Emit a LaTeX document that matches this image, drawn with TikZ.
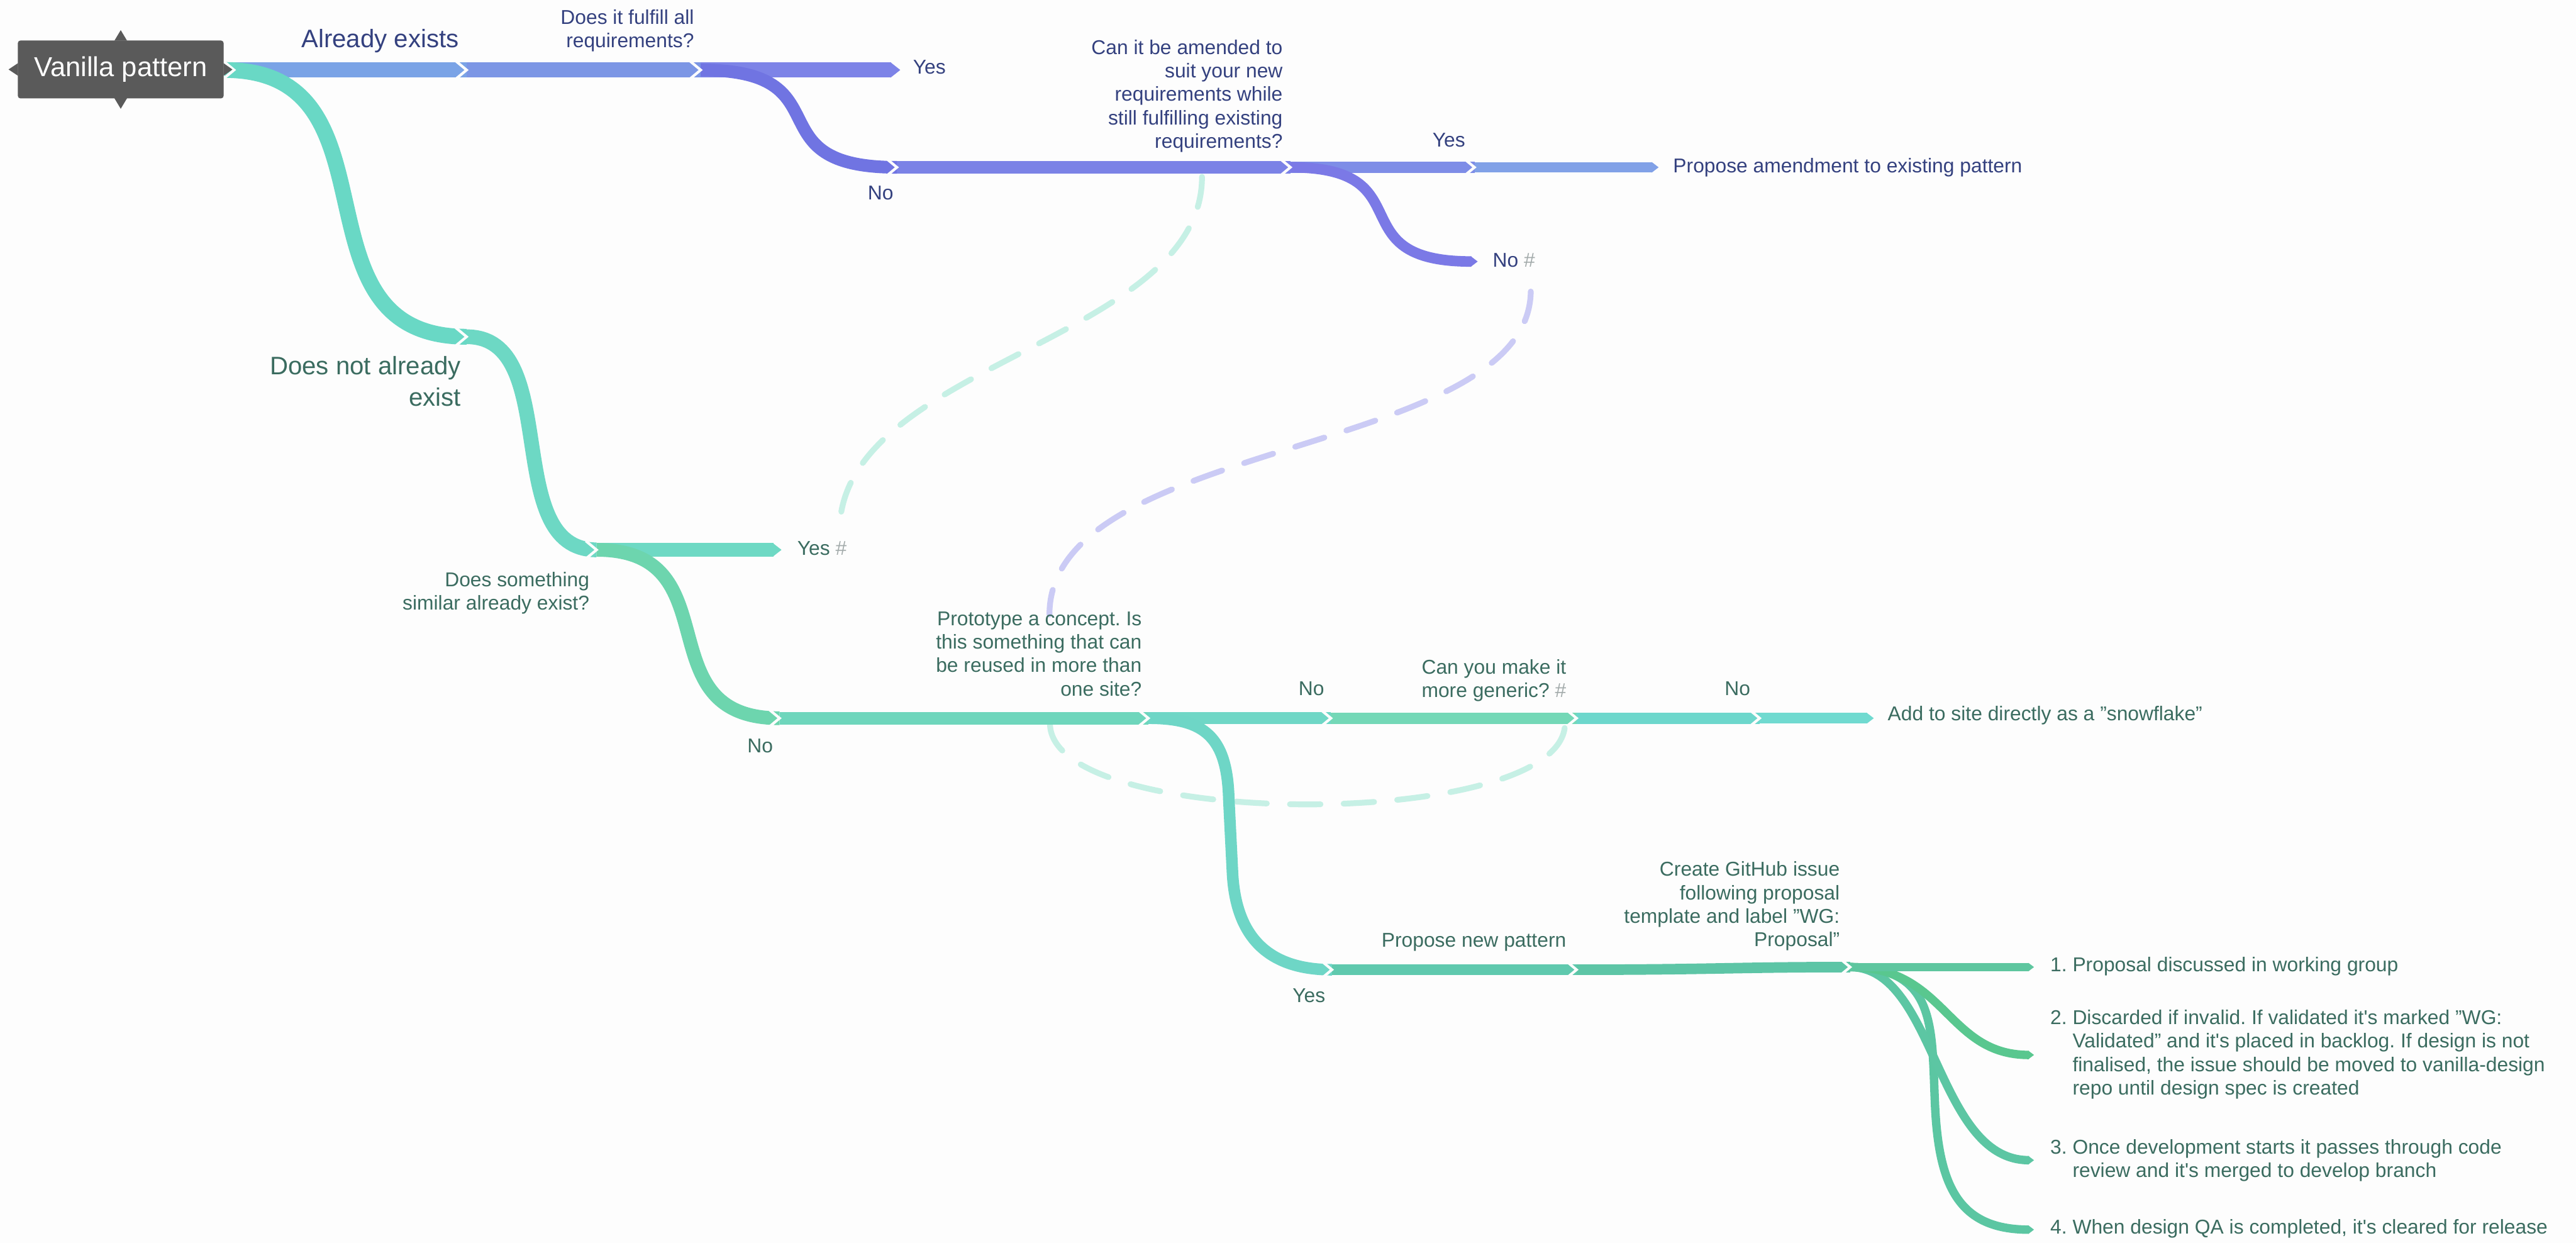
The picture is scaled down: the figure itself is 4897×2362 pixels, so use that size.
\documentclass[tikz,border=0pt]{standalone}
\usepackage{fontspec}
\setmainfont{Liberation Sans}
\usetikzlibrary{calc}
\frenchspacing

\definecolor{bg}{HTML}{FDFDFD}
\definecolor{rootgray}{HTML}{5A5A5A}
\definecolor{btext}{HTML}{34417F}
\definecolor{gtext}{HTML}{3B6C60}
\definecolor{hcol}{HTML}{A3ABAB}
\definecolor{dteal}{HTML}{C6F0E5}
\definecolor{dpurple}{HTML}{CBCBF5}
% blue family
\definecolor{cA}{HTML}{7AA3E6}
\definecolor{cB}{HTML}{7C96E5}
\definecolor{cC}{HTML}{7D83E7}
\definecolor{cD}{HTML}{7074E2}
\definecolor{cE}{HTML}{7B82E6}
\definecolor{cF}{HTML}{7E8DE7}
\definecolor{cG}{HTML}{81A1E7}
\definecolor{cH}{HTML}{7B79E6}
% teal family
\definecolor{cI}{HTML}{69D8C5}
\definecolor{cJ}{HTML}{6DD8C4}
\definecolor{cK}{HTML}{6ED9C4}
\definecolor{cL}{HTML}{6DD5AE}
\definecolor{cM}{HTML}{6ED6BC}
\definecolor{cN}{HTML}{6FD7C6}
\definecolor{cO}{HTML}{74D8B7}
\definecolor{cP}{HTML}{6DD7CC}
\definecolor{cQ}{HTML}{70DAD0}
\definecolor{cR}{HTML}{6ED6C6}
\definecolor{cS}{HTML}{5FC9AE}
\definecolor{cT}{HTML}{5DC5A6}
\definecolor{cFa}{HTML}{5EC69F}
\definecolor{cFb}{HTML}{59C78F}
\definecolor{cFc}{HTML}{5CC6A3}
\definecolor{cFd}{HTML}{5BC6A2}

\newcommand{\fsmall}{\fontsize{10.81pt}{12.66pt}\selectfont}
\newcommand{\fbig}{\fontsize{13.66pt}{16.79pt}\selectfont}
\newcommand{\froot}{\fontsize{14.8pt}{17pt}\selectfont}
\newcommand{\ap}{\textquotesingle}

% white chevron separator at a junction: coordinate, band thickness (px)
\newcommand{\chev}[2]{%
  \draw[sepline] ($(#1)+({-1.2*(0.5*#2+3)},{-(0.5*#2+3)})$) -- (#1) -- ($(#1)+({-1.2*(0.5*#2+3)},{0.5*#2+3})$);}
% pointed band end: base coordinate, thickness (px), colour
\newcommand{\tipR}[3]{%
  \fill[#3] ($(#1)+(-1,{-0.5*#2})$) -- ($(#1)+({0.6*#2},0)$) -- ($(#1)+(-1,{0.5*#2})$) -- cycle;}

\begin{document}
\begin{tikzpicture}[x=0.01cm, y=-0.01cm,
  band/.style={line width=#1, line cap=butt},
  sepline/.style={draw=bg, line width=0.5mm, line join=miter},
  dashlink/.style={line width=1.1mm, line cap=round, dash pattern=on 5.8mm off 4.4mm},
  lbl/.style={inner sep=0pt, font=\fsmall},
  mlbl/.style={inner sep=0pt, font=\fsmall, align=right, anchor=north east},
  rootbox/.style={fill=rootgray, rounded corners=0.5mm, text=white, font=\froot,
    minimum width=3.91cm, minimum height=1.1cm, inner sep=0pt}]

\useasboundingbox (0,0) rectangle (4897,2362);
\fill[bg] (0,0) rectangle (4897,2362);

% ---------- junction coordinates ----------
\coordinate (O) at (427,133);
\coordinate (O2) at (445,133);
\coordinate (J1) at (887,133);
\coordinate (J2) at (1332,133);
\coordinate (Cb) at (1694,133);
\coordinate (J3) at (1705,318);
\coordinate (J4) at (2453,318);
\coordinate (J5) at (2803,318);
\coordinate (Gb) at (3141,318);
\coordinate (Hb) at (2797,497);
\coordinate (J6) at (887,640);
\coordinate (J7) at (1134,1045);
\coordinate (Kb) at (1470,1045);
\coordinate (J8) at (1482,1365);
\coordinate (J9) at (2183,1365);
\coordinate (J10) at (2530,1365);
\coordinate (J11) at (2997,1365);
\coordinate (J12) at (3345,1365);
\coordinate (Qb) at (3550,1365);
\coordinate (J13) at (2532,1843);
\coordinate (J14) at (2997,1843);
\coordinate (J15) at (3517,1838);
\coordinate (F1b) at (3857,1838);
\coordinate (F2b) at (3857,2005);
\coordinate (F3b) at (3857,2205);
\coordinate (F4b) at (3857,2337);

% ---------- dashed links ----------
\coordinate (d1s) at (2285,336);
\coordinate (d1e) at (1596,1010);
\coordinate (d2s) at (2910,554);
\coordinate (d2e) at (1995,1168);
\coordinate (d3s) at (1996,1375);
\coordinate (d3e) at (2975,1375);
\draw[dashlink, dteal] (d1s) .. controls (2285,650) and (1596,690) .. (d1e);
\draw[dashlink, dpurple] (d2s) .. controls (2905,870) and (1995,830) .. (d2e);
\draw[dashlink, dteal] (d3s) .. controls (1996,1580) and (2975,1580) .. (d3e);

% ---------- blue branch ----------
\draw[band=2.9mm, cA] (O) -- (J1);
\draw[band=2.9mm, cB] (J1) -- (J2);
\draw[band=2.9mm, cC] (J2) -- (Cb);
\draw[band=2.3mm, cE] (J3) -- (J4);
\draw[band=2.2mm, cF] (J4) -- (J5);
\draw[band=2.0mm, cG] (J5) -- (Gb);
\draw[band=2.4mm, cD] (J2) .. controls (1612,133) and (1425,318) .. (J3);
\draw[band=2.0mm, cH] (J4) .. controls (2711,318) and (2539,497) .. (Hb);

% ---------- teal branch ----------
\draw[band=3.0mm, cI] (O) .. controls (772,133) and (542,640) .. (J6);
\draw[band=2.8mm, cJ] (J6) .. controls (1072,640) and (949,1045) .. (J7);
\draw[band=2.6mm, cK] (J7) -- (Kb);
\draw[band=2.6mm, cL] (J7) .. controls (1395,1045) and (1221,1365) .. (J8);
\draw[band=2.4mm, cM] (J8) -- (J9);
\draw[band=2.3mm, cN] (J9) -- (J10);
\draw[band=2.2mm, cO] (J10) -- (J11);
\draw[band=2.1mm, cP] (J11) -- (J12);
\draw[band=2.0mm, cQ] (J12) -- (Qb);
\draw[band=2.2mm, cR] (J9) .. controls (2290,1365) and (2333,1400) .. (2336,1520)
   -- (2343,1660) .. controls (2350,1790) and (2420,1843) .. (J13);
\draw[band=2.0mm, cS] (J13) -- (J14);
\draw[band=2.0mm, cT] (J14) .. controls (3250,1843) and (3300,1838) .. (J15);
\draw[band=1.6mm, cFd] (J15) .. controls (3680,1838) and (3672,1950) .. (3678,2090)
   .. controls (3684,2250) and (3720,2337) .. (F4b);
\draw[band=1.6mm, cFc] (J15) .. controls (3680,1838) and (3680,2205) .. (F3b);
\draw[band=1.6mm, cFb] (J15) .. controls (3700,1838) and (3700,2005) .. (F2b);
\draw[band=1.6mm, cFa] (J15) -- (F1b);

% ---------- pointed ends ----------
\tipR{Cb}{29}{cC}
\tipR{Gb}{20}{cG}
\tipR{Hb}{20}{cH}
\tipR{Kb}{26}{cK}
\tipR{Qb}{20}{cQ}
\tipR{F1b}{16}{cFa}
\tipR{F2b}{16}{cFb}
\tipR{F3b}{16}{cFc}
\tipR{F4b}{16}{cFd}

% ---------- chevron separators ----------
\chev{O2}{30}
\chev{J1}{29}
\chev{J2}{29}
\chev{J3}{24}
\chev{J4}{23}
\chev{J5}{22}
\chev{J6}{30}
\chev{J7}{28}
\chev{J8}{26}
\chev{J9}{24}
\chev{J10}{23}
\chev{J11}{22}
\chev{J12}{21}
\chev{J13}{22}
\chev{J14}{20}
\chev{J15}{20}

% ---------- root ----------
\node[rootbox] (root) at (229.5,132) {Vanilla pattern};
\fill[rootgray] ($(root.north)+(-12,1)$) -- ($(root.north)+(0,-19)$) -- ($(root.north)+(12,1)$) -- cycle;
\fill[rootgray] ($(root.south)+(-12,-1)$) -- ($(root.south)+(0,19)$) -- ($(root.south)+(12,-1)$) -- cycle;
\fill[rootgray] ($(root.west)+(1,-12)$) -- ($(root.west)+(-17,0)$) -- ($(root.west)+(1,12)$) -- cycle;
\fill[rootgray] ($(root.east)+(-1,-12)$) -- ($(root.east)+(16,0)$) -- ($(root.east)+(-1,12)$) -- cycle;

% ---------- labels ----------
\node[lbl, font=\fbig, text=btext, anchor=base east] (lAlready) at (873,90) {Already exists};
\node[mlbl, text=btext] (lFulfill) at (1320,18) {Does it fulfill all\\requirements?};
\node[lbl, text=btext, anchor=base west] (lYes1) at (1735,141) {Yes};
\node[lbl, text=btext, anchor=base east] (lNo1) at (1699,380) {No};
\node[mlbl, text=btext] (lAmend) at (2439,75) {Can it be amended to\\suit your new\\requirements while\\still fulfilling existing\\requirements?};
\node[lbl, text=btext, anchor=base east] (lYes2) at (2786,279) {Yes};
\node[lbl, text=btext, anchor=base west] (lPropAm) at (3180,328) {Propose amendment to existing pattern};
\node[lbl, text=btext, anchor=base west] (lNo2) at (2837,507) {No \textcolor{hcol}{\#}};

\node[mlbl, font=\fbig, text=gtext] (lNotExist) at (877,677) {Does not already\\exist};
\node[mlbl, text=gtext] (lSimilar) at (1121,1086) {Does something\\similar already exist?};
\node[lbl, text=gtext, anchor=base west] (lYes3) at (1515,1055) {Yes \textcolor{hcol}{\#}};
\node[lbl, text=gtext, anchor=base east] (lNo3) at (1470,1430) {No};
\node[mlbl, text=gtext] (lProto) at (2171,1162) {Prototype a concept. Is\\this something that can\\be reused in more than\\one site?};
\node[lbl, text=gtext, anchor=base east] (lNo4) at (2518,1322) {No};
\node[mlbl, text=gtext] (lGeneric) at (2978,1253) {Can you make it\\more generic? \textcolor{hcol}{\#}};
\node[lbl, text=gtext, anchor=base east] (lNo5) at (3328,1322) {No};
\node[lbl, text=gtext, anchor=base west] (lSnow) at (3588,1370) {Add to site directly as a "snowflake"};
\node[lbl, text=gtext, anchor=base east] (lYes4) at (2520,1905) {Yes};
\node[lbl, text=gtext, anchor=base east] (lPropNew) at (2978,1800) {Propose new pattern};
\node[mlbl, text=gtext] (lCreate) at (3498,1637) {Create GitHub issue\\following proposal\\template and label "WG:\\Proposal"};

\node[lbl, text=gtext, anchor=base west] (lF1) at (3897,1846) {1. Proposal discussed in working group};
\node[lbl, text=gtext, anchor=west] (lF2) at (3897,2005) {\begin{tabular}{@{}l@{\ }l@{}}2.&Discarded if invalid. If validated it\ap s marked "WG:\\&Validated" and it\ap s placed in backlog. If design is not\\&finalised, the issue should be moved to vanilla-design\\&repo until design spec is created\end{tabular}};
\node[lbl, text=gtext, anchor=west] (lF3) at (3897,2206) {\begin{tabular}{@{}l@{\ }l@{}}3.&Once development starts it passes through code\\&review and it\ap s merged to develop branch\end{tabular}};
\node[lbl, text=gtext, anchor=base west] (lF4) at (3897,2345) {4. When design QA is completed, it\ap s cleared for release};

\end{tikzpicture}
\end{document}
